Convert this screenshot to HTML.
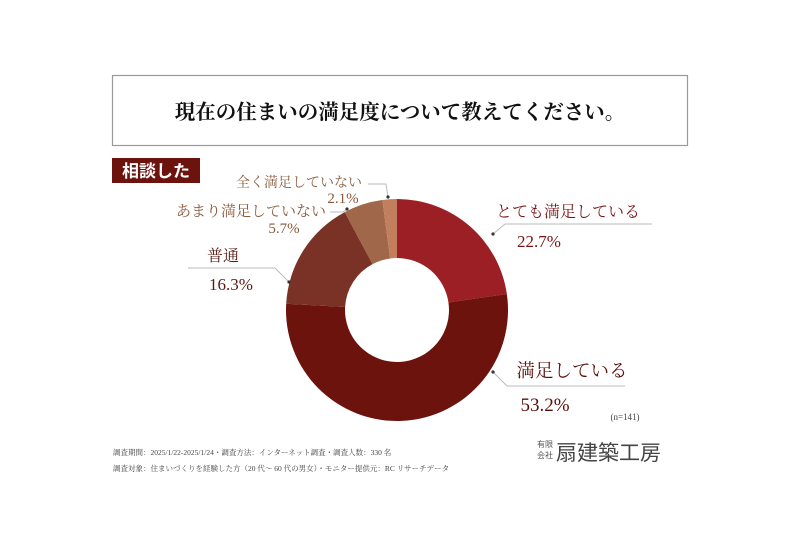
<!DOCTYPE html>
<html><head><meta charset="utf-8"><style>
html,body{margin:0;padding:0;background:#fff;}
svg{display:block;}
.s{font-family:"Liberation Serif","Noto Serif CJK SC",serif;}
.g{font-family:"Liberation Sans","Noto Sans CJK JP",sans-serif;}
</style></head><body>
<svg id="chart" width="800" height="539" viewBox="0 0 800 539">
<rect x="112.5" y="75.5" width="575" height="70" fill="#fff" stroke="#999" stroke-width="1.2"/>
<text class="s" x="400" y="119" font-size="20.5" font-weight="bold" text-anchor="middle" fill="#111">現在の住まいの満足度について教えてください。</text>
<rect x="112" y="158" width="88" height="25" fill="#6b130c"/>
<text class="g" x="156" y="177" font-size="17" font-weight="bold" text-anchor="middle" fill="#fff">相談した</text>
<g id="slices"></g>
<g id="labels"></g>
<text class="s" x="625" y="420" font-size="9" text-anchor="middle" fill="#444">(n=141)</text>
<text class="s" x="113" y="455" font-size="7.5" fill="#444">調査期間：2025/1/22-2025/1/24・調査方法：インターネット調査・調査人数：330 名</text>
<text class="s" x="113" y="471" font-size="7.5" fill="#444">調査対象：住まいづくりを経験した方（20 代～ 60 代の男女）・モニター提供元：RC リサーチデータ</text>
<text class="g" x="537" y="447" font-size="8" fill="#555">有限</text>
<text class="g" x="537" y="458" font-size="8" fill="#555">会社</text>
<text class="g" x="556" y="460" font-size="21" fill="#444">扇建築工房</text>
</svg>
<script>
const categories=["とても満足している","満足している","普通","あまり満足していない","全く満足していない"];
const values=[22.7,53.2,16.3,5.7,2.1];
const valueLabels=["22.7%","53.2%","16.3%","5.7%","2.1%"];
const colors=["#9b1f24","#6b130c","#7a3226","#a0674a","#c17f5e"];
const cx=397,cy=310,R=111,r=52;
const NS="http://www.w3.org/2000/svg";
const sg=document.getElementById("slices");
const total=values.reduce((a,b)=>a+b,0);
function pt(a,rad){return [cx+rad*Math.sin(a),cy-rad*Math.cos(a)];}
let acc=0;
values.forEach((v,i)=>{
  const a0=acc/total*2*Math.PI;acc+=v;const a1=acc/total*2*Math.PI;
  const lg=(a1-a0)>Math.PI?1:0;
  const [x0,y0]=pt(a0,R),[x1,y1]=pt(a1,R),[x2,y2]=pt(a1,r),[x3,y3]=pt(a0,r);
  const p=document.createElementNS(NS,"path");
  p.setAttribute("d",`M${x0},${y0}A${R},${R} 0 ${lg} 1 ${x1},${y1}L${x2},${y2}A${r},${r} 0 ${lg} 0 ${x3},${y3}Z`);
  p.setAttribute("fill",colors[i]);
  
  
  sg.appendChild(p);
});
// [nameX,nameY,nameAnchor,valX,valY,fontSize,valSize,color,leader points]
const lay=[
 [568,217,"middle",539,247,16,17,"#7a1414","493,234 505,224 652,224"],
 [572,377,"middle",545,411,18.5,19,"#5a0f0a","493,372 507,386 625,386"],
 [223,261,"middle",231,290,16,17,"#5a1a10","289,282 275,268 188,268"],
 [326,216,"end",284,233,15,15,"#8a5a3e","347,209 343,212 330,212"],
 [362,187,"end",343,203,14,15,"#8a5a3e","388,197 386,184 368,184"]
];
const lg2=document.getElementById("labels");
lay.forEach((L,i)=>{
  const pts=L[8];
  const first=pts.split(" ")[0].split(",");
  const pl=document.createElementNS(NS,"polyline");
  pl.setAttribute("points",pts);
  pl.setAttribute("fill","none");pl.setAttribute("stroke","#bbb");pl.setAttribute("stroke-width","1");
  
  
  lg2.appendChild(pl);
  const dot=document.createElementNS(NS,"circle");
  dot.setAttribute("cx",first[0]);dot.setAttribute("cy",first[1]);dot.setAttribute("r",1.6);dot.setAttribute("fill","#333");
  
  
  lg2.appendChild(dot);
  const t=document.createElementNS(NS,"text");
  t.setAttribute("class","s");t.setAttribute("x",L[0]);t.setAttribute("y",L[1]);
  t.setAttribute("font-size",L[5]);t.setAttribute("text-anchor",L[2]);t.setAttribute("fill",L[7]);
  t.textContent=categories[i];
  
  
  lg2.appendChild(t);
  const t2=document.createElementNS(NS,"text");
  t2.setAttribute("class","s");t2.setAttribute("x",L[3]);t2.setAttribute("y",L[4]);
  t2.setAttribute("font-size",L[6]);t2.setAttribute("text-anchor","middle");t2.setAttribute("fill",L[7]);
  t2.textContent=valueLabels[i];
  
  
  lg2.appendChild(t2);
});
</script>
</body></html>
